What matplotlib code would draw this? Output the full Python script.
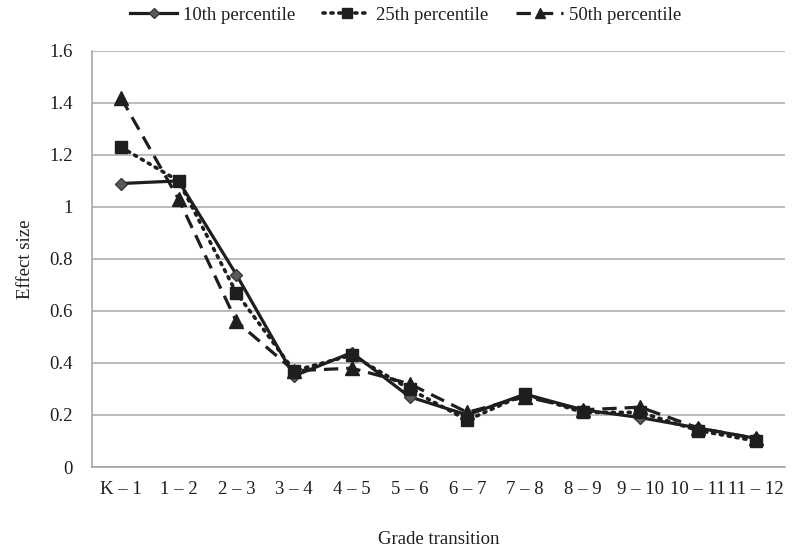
import matplotlib
matplotlib.use("Agg")
import matplotlib.pyplot as plt
import numpy as np

# grade transitions on the x axis
transitions = ["K – 1", "1 – 2", "2 – 3", "3 – 4", "4 – 5", "5 – 6",
               "6 – 7", "7 – 8", "8 – 9", "9 – 10", "10 – 11", "11 – 12"]

# effect sizes
p10 = [1.09, 1.10, 0.74, 0.35, 0.44, 0.27, 0.20, 0.28, 0.22, 0.19, 0.15, 0.11]
p25 = [1.23, 1.10, 0.67, 0.37, 0.43, 0.30, 0.18, 0.28, 0.21, 0.21, 0.14, 0.10]
p50 = [1.42, 1.03, 0.56, 0.37, 0.38, 0.32, 0.21, 0.27, 0.22, 0.23, 0.15, 0.11]

yticks = [0, 0.2, 0.4, 0.6, 0.8, 1, 1.2, 1.4, 1.6]
ytick_labels = ["0", "0.2", "0.4", "0.6", "0.8", "1", "1.2", "1.4", "1.6"]

plt.rcParams["font.family"] = ["Liberation Serif", "DejaVu Serif"]
INK = "#1e1e1e"

fig = plt.figure(figsize=(8.0, 5.53), dpi=100)
ax = fig.add_axes([0.115, 0.1555, 0.866, 0.7525])

x = np.arange(len(transitions))
ax.plot(x, p10, color=INK, lw=2.3, ls="-", marker="D", ms=6.5,
        mfc="#5a5a5a", mec="#3a3a3a", label="10th percentile", zorder=3)
ax.plot(x, p25, color=INK, lw=2.6, ls=(0, (0.6, 1.6)), dash_capstyle="round",
        marker="s", ms=9, mfc=INK, mec=INK, label="25th percentile", zorder=4)
ax.plot(x, p50, color=INK, lw=2.3, ls=(0, (4.5, 2.5)), marker="^", ms=10,
        mfc=INK, mec=INK, label="50th percentile", zorder=5)

ax.set_xlim(-0.5, len(transitions) - 0.5)
ax.set_ylim(0, 1.6)
ax.set_xticks(x)
ax.set_xticklabels(transitions)
ax.set_yticks(yticks)
ax.set_yticklabels(ytick_labels)
ax.tick_params(axis="both", length=0, labelsize=13.5, colors=INK)
ax.tick_params(axis="x", pad=10)
ax.tick_params(axis="y", pad=14)

ax.yaxis.grid(True, color="#a8a8a8", lw=1.1)
ax.set_axisbelow(True)
for side in ("top", "right"):
    ax.spines[side].set_visible(False)
for side in ("left", "bottom"):
    ax.spines[side].set_color("#a0a0a0")
    ax.spines[side].set_linewidth(1.1)

ax.set_ylabel("Effect size", fontsize=13.5, color=INK, labelpad=11)
ax.set_xlabel("Grade transition", fontsize=13.5, color=INK, labelpad=24)

leg = fig.legend(loc="upper center", bbox_to_anchor=(0.507, 1.018), ncol=3,
                 frameon=False, fontsize=13.5, handlelength=2.5,
                 columnspacing=1.5, handletextpad=0.3, labelcolor=INK,
                 markerscale=0.75)

fig.savefig("out.png", dpi=100)
